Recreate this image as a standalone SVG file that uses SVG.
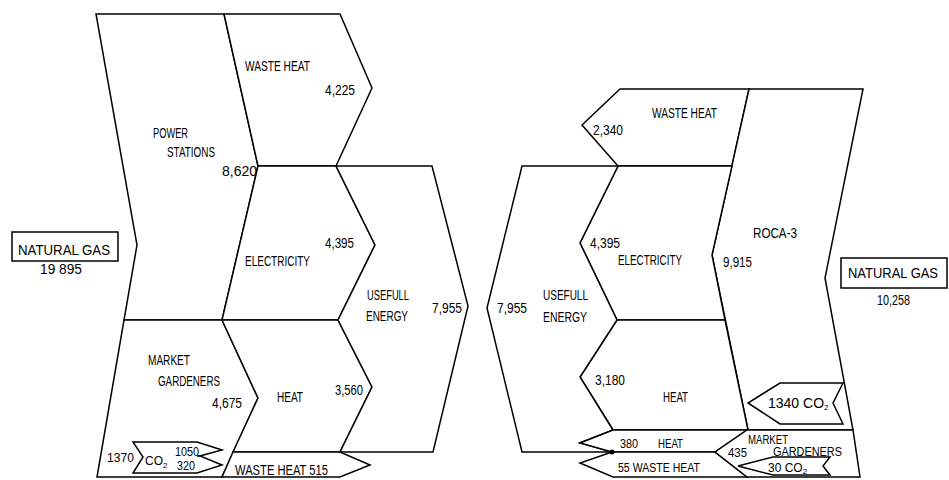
<svg xmlns="http://www.w3.org/2000/svg" width="949" height="480" viewBox="0 0 949 480">
<style>
.s{fill:#fff;stroke:#000;stroke-width:1.5;stroke-linejoin:miter}
.b{fill:none;stroke:#000;stroke-width:1.5}
text{font-family:"Liberation Sans Narrow","Liberation Sans",Arial,sans-serif;font-size:14px;fill:#000}
.m{font-size:12px}
.sub{font-size:8px}
</style>
<rect width="949" height="480" fill="#fff"/>
<!-- LEFT -->
<g id="power-stations">
<polygon class="s" points="96,14 224,14 258,166 222,320 124,320 137,245"/>
<text x="153" y="138" textLength="35" lengthAdjust="spacingAndGlyphs">POWER</text>
<text x="167" y="157" textLength="48" lengthAdjust="spacingAndGlyphs">STATIONS</text>
<text x="222" y="176" textLength="35" lengthAdjust="spacingAndGlyphs">8,620</text>
</g>
<g id="market-gardeners-left">
<polygon class="s" points="124,320 222,320 258,398 222,477 97,477"/>
<text x="148" y="365" textLength="42" lengthAdjust="spacingAndGlyphs">MARKET</text>
<text x="158" y="386" textLength="62" lengthAdjust="spacingAndGlyphs">GARDENERS</text>
<text x="212" y="408" textLength="30" lengthAdjust="spacingAndGlyphs">4,675</text>
</g>
<g id="waste-heat-left">
<polygon class="s" points="224,14 340,14 372,88 336,166 258,166"/>
<text x="245" y="71" textLength="65" lengthAdjust="spacingAndGlyphs">WASTE HEAT</text>
<text x="325" y="95" textLength="30" lengthAdjust="spacingAndGlyphs">4,225</text>
</g>
<g id="electricity-left">
<polygon class="s" points="258,166 336,166 375,245 338,320 222,320"/>
<text x="325" y="248" textLength="29" lengthAdjust="spacingAndGlyphs">4,395</text>
<text x="245" y="266" textLength="65" lengthAdjust="spacingAndGlyphs">ELECTRICITY</text>
</g>
<g id="heat-left">
<polygon class="s" points="222,320 338,320 372,387 340,452 233,452 258,398"/>
<text x="277" y="402" textLength="26" lengthAdjust="spacingAndGlyphs">HEAT</text>
<text x="335" y="395" textLength="28" lengthAdjust="spacingAndGlyphs">3,560</text>
</g>
<g id="useful-energy-left">
<polygon class="s" points="336,166 432,166 468,306 433,452 340,452 372,387 338,320 375,245"/>
<text x="367" y="300" textLength="42" lengthAdjust="spacingAndGlyphs">USEFULL</text>
<text x="366" y="321" textLength="42" lengthAdjust="spacingAndGlyphs">ENERGY</text>
<text x="432" y="313" textLength="30" lengthAdjust="spacingAndGlyphs">7,955</text>
</g>
<g id="waste-heat-515">
<polygon class="s" points="233,452 340,452 370,465 340,477 222,477"/>
<text x="235" y="475" textLength="93" lengthAdjust="spacingAndGlyphs">WASTE HEAT 515</text>
</g>
<g id="co2-left">
<polygon class="s" points="133,442 197,442 222,450 200,456 222,465 197,473 133,473 143,457"/>
<line class="b" x1="197" y1="456" x2="200" y2="456"/>
<text class="m" x="107" y="462" textLength="27" lengthAdjust="spacingAndGlyphs">1370</text>
<text class="m" x="145" y="465">CO<tspan class="sub" dy="3">2</tspan></text>
<text class="m" x="175" y="456" textLength="24" lengthAdjust="spacingAndGlyphs">1050</text>
<text class="m" x="177" y="470" textLength="18" lengthAdjust="spacingAndGlyphs">320</text>
</g>
<g id="natural-gas-left">
<rect class="s" x="12" y="232" width="106" height="29"/>
<text x="18" y="255" textLength="92" lengthAdjust="spacingAndGlyphs">NATURAL GAS</text>
<text x="40" y="274" textLength="42" lengthAdjust="spacingAndGlyphs">19 895</text>
</g>
<!-- RIGHT -->
<g id="waste-heat-right">
<polygon class="s" points="620,89 749,89 732,166 618,166 582,125"/>
<text x="652" y="118" textLength="65" lengthAdjust="spacingAndGlyphs">WASTE HEAT</text>
<text x="593" y="135" textLength="30" lengthAdjust="spacingAndGlyphs">2,340</text>
</g>
<g id="roca-3">
<polygon class="s" points="749,89 863,89 825,278 853,430 748,430 712,255"/>
<text x="753" y="238" textLength="44" lengthAdjust="spacingAndGlyphs">ROCA-3</text>
<text x="723" y="267" textLength="29" lengthAdjust="spacingAndGlyphs">9,915</text>
</g>
<g id="electricity-right">
<polygon class="s" points="618,166 732,166 712,255 725,320 617,320 580,243"/>
<text x="590" y="248" textLength="30" lengthAdjust="spacingAndGlyphs">4,395</text>
<text x="618" y="265" textLength="64" lengthAdjust="spacingAndGlyphs">ELECTRICITY</text>
</g>
<g id="heat-right">
<polygon class="s" points="617,320 725,320 748,430 613,430 580,377"/>
<text x="595" y="385" textLength="30" lengthAdjust="spacingAndGlyphs">3,180</text>
<text x="663" y="402" textLength="25" lengthAdjust="spacingAndGlyphs">HEAT</text>
</g>
<g id="useful-energy-right">
<polygon class="s" points="522,166 618,166 580,243 617,320 580,377 613,430 580,443 612,452 522,452 487,308"/>
<text x="543" y="300" textLength="45" lengthAdjust="spacingAndGlyphs">USEFULL</text>
<text x="543" y="322" textLength="44" lengthAdjust="spacingAndGlyphs">ENERGY</text>
<text x="497" y="313" textLength="30" lengthAdjust="spacingAndGlyphs">7,955</text>
</g>
<g id="heat-380">
<polygon class="s" points="613,430 747,430 715,452 612,452 580,443"/>
<text class="m" x="620" y="448" textLength="18" lengthAdjust="spacingAndGlyphs">380</text>
<text class="m" x="658" y="448" textLength="25" lengthAdjust="spacingAndGlyphs">HEAT</text>
</g>
<g id="waste-heat-55">
<polygon class="s" points="612,452 715,452 747,477 613,477 580,463"/>
<text class="m" x="618" y="472" textLength="82" lengthAdjust="spacingAndGlyphs">55 WASTE HEAT</text>
<circle cx="612" cy="452" r="2.5" fill="#000"/>
</g>
<g id="market-gardeners-right">
<polygon class="s" points="747,430 853,430 860,477 747,477 715,452"/>
<text class="m" x="748" y="444" textLength="40" lengthAdjust="spacingAndGlyphs">MARKET</text>
<text class="m" x="773" y="456" textLength="69" lengthAdjust="spacingAndGlyphs">GARDENERS</text>
<text class="m" x="728" y="457" textLength="19" lengthAdjust="spacingAndGlyphs">435</text>
</g>
<g id="co2-30">
<polygon class="s" points="773,457 830,457 823,466 830,475 773,475 738,466"/>
<text class="m" x="768" y="472">30 CO<tspan class="sub" dy="2">2</tspan></text>
</g>
<g id="co2-1340">
<polygon class="s" points="780,383 843,383 833,403 843,424 780,424 748,403"/>
<text x="768" y="408">1340 CO<tspan class="sub" dy="2">2</tspan></text>
</g>
<g id="natural-gas-right">
<rect class="s" x="841" y="258" width="106" height="30"/>
<text x="848" y="278" textLength="90" lengthAdjust="spacingAndGlyphs">NATURAL GAS</text>
<text x="877" y="305" textLength="33" lengthAdjust="spacingAndGlyphs">10,258</text>
</g>
<g id="connectors"/>
</svg>
